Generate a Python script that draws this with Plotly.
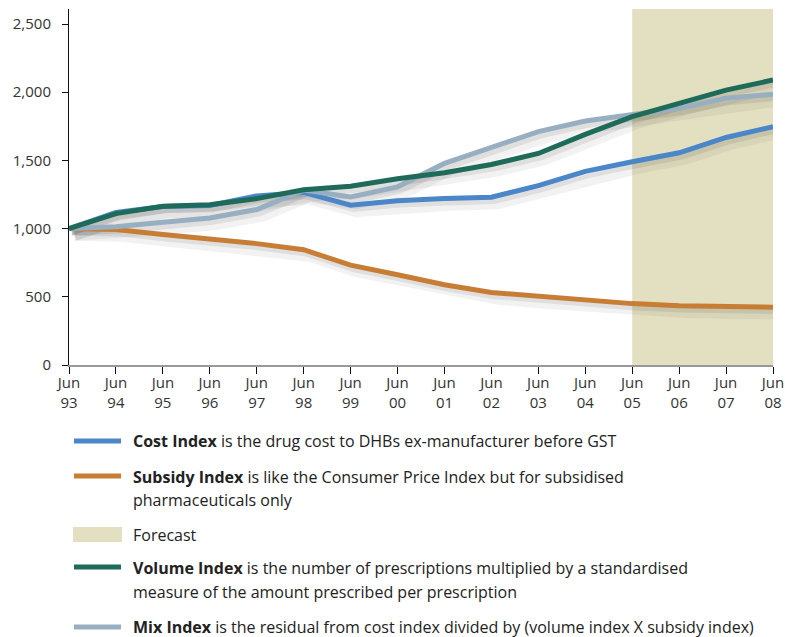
import plotly.graph_objects as go

years = ["93", "94", "95", "96", "97", "98", "99", "00", "01", "02", "03", "04", "05", "06", "07", "08"]
cost_index = [1000, 1118, 1162, 1170, 1240, 1265, 1172, 1205, 1220, 1230, 1315, 1420, 1490, 1556, 1668, 1747]
subsidy_index = [1000, 993, 956, 926, 890, 845, 732, 662, 588, 532, 502, 473, 450, 434, 426, 424]
volume_index = [1000, 1110, 1164, 1175, 1220, 1285, 1310, 1365, 1409, 1470, 1551, 1691, 1821, 1920, 2015, 2089]
mix_index = [1000, 1014, 1046, 1078, 1140, 1282, 1232, 1306, 1478, 1593, 1711, 1789, 1840, 1882, 1955, 1985]
forecast_start = "05"

x = list(range(len(years)))
ticktext = ["Jun<br>" + y for y in years]

BLUE = "#4a86c8"
ORANGE = "#c87d35"
GREEN = "#1e6b5a"
GREY = "#97afc0"
FORECAST = "#e3e0c2"
FONT = "Open Sans"

W, H = 785, 637
# plot area in pixels (also used to place the hand-made legend)
L, R, T, B = 69, 773, 9, 365


def px(v):
    return (v - L) / (R - L)


def py(v):
    return (B - v) / (B - T)


fig = go.Figure()

series = [
    (subsidy_index, ORANGE),
    (cost_index, BLUE),
    (mix_index, GREY),
    (volume_index, GREEN),
]

# soft drop shadow under each line
for vals, col in series:
    fig.add_trace(go.Scatter(
        x=[i + 0.12 for i in x], y=[v - 45 for v in vals], mode="lines",
        line=dict(color="rgba(0,0,0,0.05)", width=12), hoverinfo="skip", showlegend=False))
for vals, col in series:
    fig.add_trace(go.Scatter(
        x=[i + 0.06 for i in x], y=[v - 28 for v in vals], mode="lines",
        line=dict(color="rgba(0,0,0,0.08)", width=6), hoverinfo="skip", showlegend=False))

for vals, col in series:
    fig.add_trace(go.Scatter(x=x, y=vals, mode="lines",
                             line=dict(color=col, width=5), showlegend=False))

fig.add_shape(type="rect", xref="x", yref="paper",
              x0=years.index(forecast_start), x1=len(years) - 1, y0=0, y1=1,
              fillcolor=FORECAST, line_width=0, layer="below")

# legend built by hand
line_rows = [(441, BLUE), (476, ORANGE), (567, GREEN), (627, GREY)]
for yy, col in line_rows:
    fig.add_shape(type="line", xref="paper", yref="paper",
                  x0=px(74), x1=px(121), y0=py(yy), y1=py(yy),
                  line=dict(color=col, width=5))
fig.add_shape(type="rect", xref="paper", yref="paper",
              x0=px(73), x1=px(122), y0=py(527), y1=py(542),
              fillcolor=FORECAST, line_width=0)

texts = [
    (441, "<b>Cost Index</b> is the drug cost to DHBs ex-manufacturer before GST"),
    (477, "<b>Subsidy Index</b> is like the Consumer Price Index but for subsidised"),
    (500, "pharmaceuticals only"),
    (535, "Forecast"),
    (568, "<b>Volume Index</b> is the number of prescriptions multiplied by a standardised"),
    (592, "measure of the amount prescribed per prescription"),
    (627, "<b>Mix Index</b> is the residual from cost index divided by (volume index X subsidy index)"),
]
for yy, t in texts:
    fig.add_annotation(text=t, xref="paper", yref="paper", x=px(131), y=py(yy),
                       xanchor="left", yanchor="middle", showarrow=False,
                       font=dict(family=FONT, size=16, color="#222"))

fig.update_layout(
    width=W, height=H,
    margin=dict(l=L, r=W - R, t=T, b=H - B),
    plot_bgcolor="white", paper_bgcolor="white",
    font=dict(family=FONT, size=15, color="#333"),
    showlegend=False,
)
fig.update_xaxes(range=[0, len(years) - 1], tickvals=x, ticktext=ticktext,
                 showgrid=False, zeroline=False, showline=True, linecolor="#999", linewidth=2,
                 ticks="outside", ticklen=7, tickcolor="#111", tickwidth=1,
                 ticklabelstandoff=-4, automargin=False)
fig.update_yaxes(range=[0, 2610], tickvals=[0, 500, 1000, 1500, 2000, 2500],
                 tickformat=",d", showgrid=False, zeroline=False,
                 showline=True, linecolor="#111", linewidth=1,
                 ticks="outside", ticklen=6, tickcolor="#111", ticklabelstandoff=8,
                 automargin=False)

# drop the default page margin so the figure sits at the window's corner
fig.write_html("out.html", config={"responsive": False, "displayModeBar": False},
               post_script="document.body.style.margin='0';document.body.style.overflow='hidden';")
